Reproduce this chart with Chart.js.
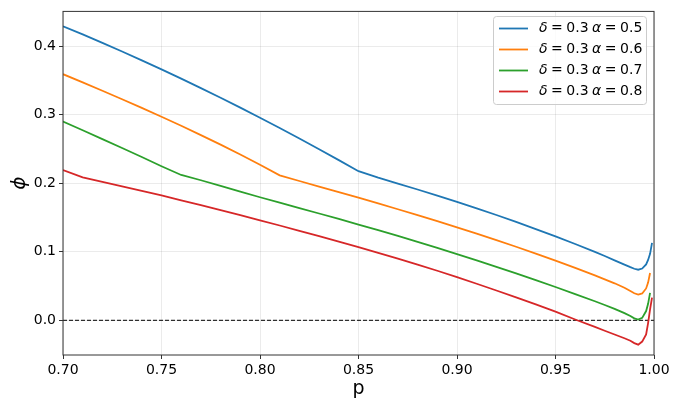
<!DOCTYPE html>
<html>
<head>
<meta charset="utf-8">
<script src="https://cdn.jsdelivr.net/npm/chart.js@4.4.1/dist/chart.umd.min.js"></script>
<style>
  html, body { margin: 0; padding: 0; background: #fff; }
  #wrap { width: 680px; height: 408px; position: relative; }
</style>
</head>
<body>
<div id="wrap"><canvas id="phiChart"></canvas></div>
<script>
// p values shared by all curves
const pValues = [0.70, 0.71, 0.72, 0.73, 0.74, 0.75, 0.76, 0.77, 0.78, 0.79,
  0.80, 0.81, 0.82, 0.83, 0.84, 0.85, 0.86, 0.87, 0.88, 0.89,
  0.90, 0.91, 0.92, 0.93, 0.94, 0.95, 0.96, 0.97, 0.975, 0.98,
  0.985, 0.988, 0.99, 0.992, 0.994, 0.996, 0.997, 0.998, 0.999];

const phiAlpha05 = [0.429, 0.417, 0.4047, 0.3921, 0.3792, 0.366, 0.3525, 0.3387, 0.3246, 0.3102,
  0.2955, 0.2805, 0.2652, 0.2496, 0.2337, 0.2175, 0.208, 0.1995, 0.1908, 0.182,
  0.1729, 0.1634, 0.1536, 0.1435, 0.1331, 0.1224, 0.1113, 0.0998, 0.0938, 0.0875,
  0.0812, 0.0775, 0.0752, 0.0738, 0.0755, 0.0815, 0.088, 0.097, 0.113];

const phiAlpha06 = [0.359, 0.347, 0.3348, 0.3224, 0.3098, 0.297, 0.2838, 0.2702, 0.2562, 0.2418,
  0.227, 0.2115, 0.2032, 0.195, 0.1869, 0.1788, 0.1705, 0.162, 0.1534, 0.1446,
  0.1356, 0.1264, 0.117, 0.1073, 0.0973, 0.087, 0.0764, 0.0655, 0.0598, 0.054,
  0.0475, 0.0428, 0.0395, 0.0375, 0.0392, 0.0465, 0.055, 0.069, null];

const phiAlpha07 = [0.290, 0.2772, 0.2643, 0.2513, 0.2382, 0.2248, 0.212, 0.2043, 0.1961, 0.1878,
  0.1795, 0.1716, 0.1637, 0.1558, 0.1478, 0.1397, 0.1314, 0.123, 0.1144, 0.1056,
  0.0966, 0.0874, 0.078, 0.0684, 0.0586, 0.0486, 0.0383, 0.0278, 0.0223, 0.0166,
  0.0105, 0.0062, 0.0028, 0.001, 0.0035, 0.0135, 0.024, 0.040, null];

const phiAlpha08 = [0.2193, 0.2086, 0.2021, 0.1955, 0.1889, 0.1821, 0.1751, 0.168, 0.1608, 0.1534,
  0.1459, 0.1383, 0.1306, 0.1228, 0.1148, 0.1067, 0.0984, 0.0899, 0.0812, 0.0723,
  0.063, 0.0533, 0.0435, 0.0335, 0.0232, 0.0126, 0.0012, -0.0097, -0.0152, -0.0207,
  -0.0262, -0.0298, -0.0333, -0.0355, -0.031, -0.0205, -0.004, 0.016, 0.033];

const seriesLabels = ["δ = 0.3 α = 0.5", "δ = 0.3 α = 0.6", "δ = 0.3 α = 0.7", "δ = 0.3 α = 0.8"];
const seriesColors = ["#1f77b4", "#ff7f0e", "#2ca02c", "#d62728"];
const seriesValues = [phiAlpha05, phiAlpha06, phiAlpha07, phiAlpha08];

const xTicks = [0.70, 0.75, 0.80, 0.85, 0.90, 0.95, 1.00];
const yTicks = [0.0, 0.1, 0.2, 0.3, 0.4];
const xRange = [0.70, 1.00];
const yRange = [-0.0506, 0.4506];

const FONT = "'DejaVu Sans', sans-serif";

function toPoints(values) {
  return values.map((v, i) => ({ x: pValues[i], y: v }));
}

const datasets = seriesValues.map((vals, i) => ({
  label: seriesLabels[i],
  data: toPoints(vals),
  borderColor: seriesColors[i],
  borderWidth: 1.8,
  pointRadius: 0,
  tension: 0,
  fill: false
}));

// horizontal reference at phi = 0
datasets.push({
  label: "zero",
  data: xRange.map(x => ({ x: x, y: 0 })),
  borderColor: "#000",
  borderWidth: 1,
  borderDash: [4, 2],
  pointRadius: 0,
  fill: false
});

// Axes frame on all four sides
const framePlugin = {
  id: "frame",
  afterDraw(chart) {
    const { ctx, chartArea: a } = chart;
    ctx.save();
    ctx.strokeStyle = "#333";
    ctx.lineWidth = 1;
    ctx.strokeRect(a.left, a.top, a.right - a.left, a.bottom - a.top);
    ctx.restore();
  }
};

// Legend drawn inside the plot, upper right
const legendPlugin = {
  id: "insideLegend",
  afterDraw(chart) {
    const ctx = chart.ctx;
    const items = chart.data.datasets.filter(d => d.label !== "zero");
    const box = { x: 493.5, y: 16.5, w: 153, h: 88 };
    ctx.save();
    ctx.beginPath();
    ctx.roundRect(box.x, box.y, box.w, box.h, 3);
    ctx.fillStyle = "rgba(255,255,255,0.8)";
    ctx.fill();
    ctx.strokeStyle = "#cccccc";
    ctx.lineWidth = 1;
    ctx.stroke();

    items.forEach((d, i) => {
      const y = 28.5 + i * 21;
      ctx.beginPath();
      ctx.moveTo(499, y);
      ctx.lineTo(528, y);
      ctx.strokeStyle = d.borderColor;
      ctx.lineWidth = 1.8;
      ctx.stroke();

      // greek letters in italic like mathtext, slightly tighter spaces
      let x = 539;
      ctx.textBaseline = "middle";
      ctx.fillStyle = "#000";
      d.label.split(/([α-ω ])/).forEach(part => {
        if (!part) return;
        if (part === " ") { x += 3.5; return; }
        const greek = /^[α-ω]$/.test(part);
        ctx.font = (greek ? "italic " : "") + "14px " + FONT;
        ctx.fillText(part, x, y);
        x += ctx.measureText(part).width;
      });
    });
    ctx.restore();
  }
};

const chart = new Chart(document.getElementById("phiChart").getContext("2d"), {
  type: "line",
  data: { datasets: datasets },
  options: {
    responsive: true,
    maintainAspectRatio: false,
    animation: false,
    layout: { padding: { left: 0, top: 10, right: 26, bottom: 0 } },
    plugins: {
      legend: { display: false },
      tooltip: { enabled: false }
    },
    scales: {
      x: {
        type: "linear",
        min: xRange[0],
        max: xRange[1],
        afterBuildTicks: axis => { axis.ticks = xTicks.map(v => ({ value: v })); },
        afterFit: axis => { axis.height = 53; },
        ticks: {
          autoSkip: false,
          maxRotation: 0,
          padding: 3,
          color: "#000",
          font: { family: FONT, size: 14 },
          callback: v => Number(v).toFixed(2)
        },
        grid: { color: "rgba(0,0,0,0.08)", tickColor: "#333", tickLength: 4 },
        border: { display: false },
        title: {
          display: true,
          text: "p",
          color: "#000",
          font: { family: FONT, size: 19 },
          padding: { top: 0, bottom: 8 }
        }
      },
      y: {
        type: "linear",
        min: yRange[0],
        max: yRange[1],
        afterBuildTicks: axis => { axis.ticks = yTicks.map(v => ({ value: v })); },
        afterFit: axis => { axis.width = 63; },
        ticks: {
          padding: 3,
          color: "#000",
          font: { family: FONT, size: 14 },
          callback: v => Number(v).toFixed(1)
        },
        grid: { color: "rgba(0,0,0,0.08)", tickColor: "#333", tickLength: 4 },
        border: { display: false },
        title: {
          display: true,
          text: "ϕ",
          color: "#000",
          font: { family: FONT, size: 20, style: "italic" },
          padding: { top: 8, bottom: 0 }
        }
      }
    }
  },
  plugins: [framePlugin, legendPlugin]
});
</script>
</body>
</html>
